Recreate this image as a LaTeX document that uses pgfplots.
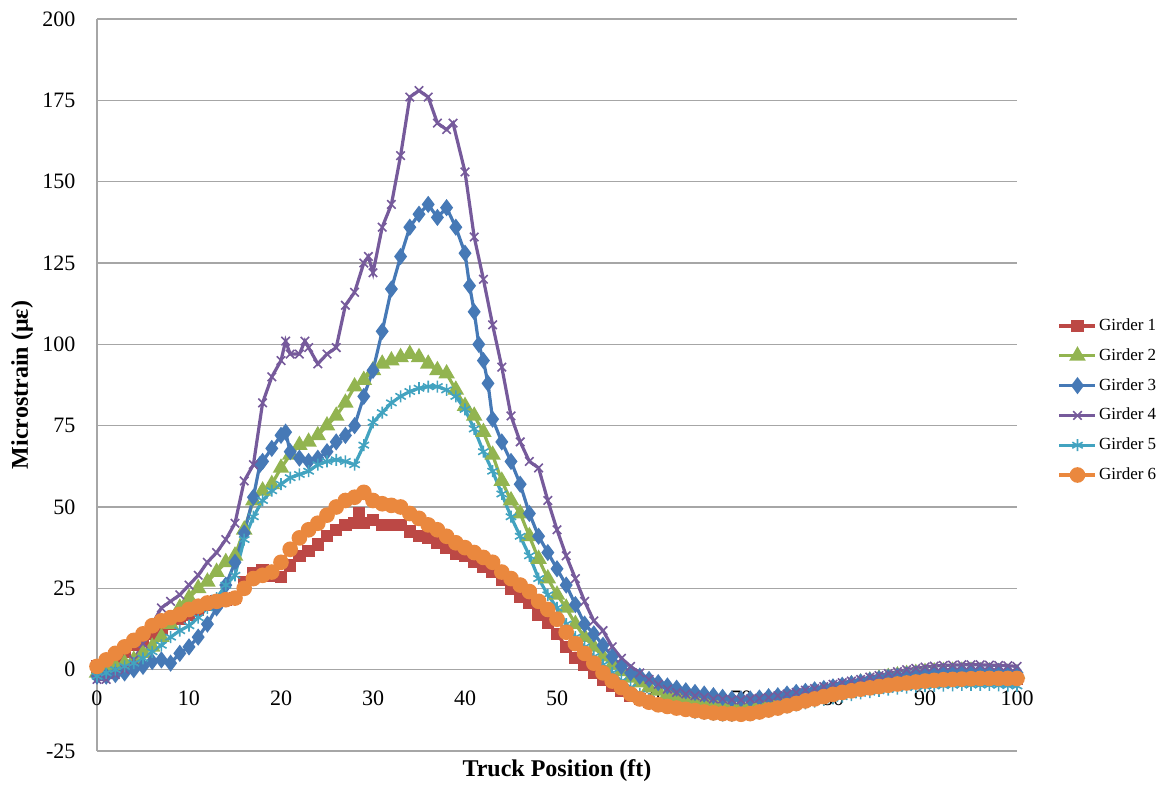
\documentclass[border=0pt]{standalone}
\usepackage{pgfplots}
\pgfplotsset{compat=1.18}
\usepackage{fontspec}
\setmainfont{Liberation Serif}
\definecolor{c1}{RGB}{188,72,69}
\definecolor{c2}{RGB}{146,180,80}
\definecolor{c3}{RGB}{70,121,182}
\definecolor{c4}{RGB}{118,90,155}
\definecolor{c5}{RGB}{66,163,192}
\definecolor{c6}{RGB}{234,136,62}
\begin{document}
\begin{tikzpicture}
\useasboundingbox (-48.5pt,-17pt) rectangle (532.5pt,375.5pt);
\begin{axis}[
  at={(0,0)}, anchor=south west,
  scale only axis, width=460pt, height=366pt,
  xmin=0, xmax=100, ymin=-25, ymax=200,
  axis y line=left, axis x line=middle,
  axis line style={-, draw=gray!70, line width=0.75pt},
  hide obscured x ticks=false, hide obscured y ticks=false,
  xtick={0,10,...,100},
  xticklabels={0,10,20,30,40,50,60,70,80,90,100},
  ytick={-25,0,25,50,75,100,125,150,175,200},
  yticklabels={-25,0,25,50,75,100,125,150,175,200},
  major tick length=0pt,
  ymajorgrids, grid style={draw=gray!70, line width=0.75pt},
  ticklabel style={font=\fontsize{11}{13}\selectfont},
  xticklabel style={anchor=north, yshift=-7pt},
  yticklabel style={anchor=east, xshift=-7.3pt},
  xlabel={Truck Position (ft)},
  ylabel={Microstrain (με)},
  label style={font=\fontsize{12}{14}\selectfont\bfseries},
  xlabel style={at={(axis description cs:0.5,0)}, anchor=north, inner sep=0pt, yshift=-4pt},
  ylabel style={at={(axis description cs:0,0.5)}, anchor=center, yshift=37.5pt},
  legend style={at={(axis description cs:1.044,0.4788)}, anchor=west, draw=none, fill=none,
    font=\fontsize{8.5}{10}\selectfont, inner sep=0pt, row sep=5.5pt,
    nodes={inner sep=1pt}},
  legend cell align=left,
  legend image code/.code={\draw[mark repeat=2,mark phase=2] plot coordinates {(0pt,0pt) (9pt,0pt) (18pt,0pt)};},
  every axis plot/.append style={line width=1.6pt},
]
\addplot[color=c1, mark=square*, mark size=2.3pt, mark options={solid}] coordinates {
(0,1)(1,2)(2,3)(3,5.5)(4,7.5)(5,9)(6,11)(7,12.5)(8,14)(9,15.5)(10,17)(11,18.5)(12,20)(13,21)(14,21.5)(15,22)(16,27)(17,29.5)(18,30.5)(19,29)(20,28.5)(21,32)(22,35)(23,36.5)(24,38.5)(25,41)(26,43)(27,44.5)(28,45)(28.5,48)(29,45)(30,46)(31,44.5)(32,44.5)(33,44.5)(34,42.5)(35,41)(36,40.5)(37,39)(38,37.5)(39,35.5)(40,35)(41,33)(42,31.5)(43,30)(44,27.5)(45,25)(46,22.5)(47,20.5)(48,17)(49,14.5)(50,11)(51,7)(52,3.5)(53,1.5)(54,-1)(55,-3)(56,-5)(57,-6.5)(58,-8)(59,-9)(60,-10)(61,-10.5)(62,-11)(63,-11.3)(64,-11.6)(65,-11.9)(66,-12.1)(67,-12.3)(68,-12.4)(69,-12.5)(70,-12.5)(71,-12.3)(72,-12)(73,-11.5)(74,-11)(75,-10.4)(76,-9.8)(77,-9.2)(78,-8.6)(79,-8)(80,-7.4)(81,-6.8)(82,-6.3)(83,-5.8)(84,-5.3)(85,-4.9)(86,-4.5)(87,-4.1)(88,-3.8)(89,-3.5)(90,-3.2)(91,-3)(92,-2.8)(93,-2.7)(94,-2.6)(95,-2.5)(96,-2.5)(97,-2.5)(98,-2.5)(99,-2.6)(100,-2.7)
};
\addlegendentry{Girder 1}
\addplot[color=c2, mark=triangle*, mark size=3.2pt, mark options={solid}] coordinates {
(0,-1)(1,0)(2,1)(3,2)(4,3)(5,5)(6,7)(7,10)(8,14)(9,19)(10,22)(11,25)(12,27)(13,30)(14,33)(15,35)(16,43)(17,52)(18,55)(19,57)(20,62)(21,66)(22,69)(23,70)(24,72)(25,75)(26,78)(27,82)(28,87)(29,89)(30,92)(31,94)(32,95)(33,96)(34,97)(35,96)(36,94)(37,92)(38,91)(39,86)(40,81)(41,78)(42,73)(43,66)(44,58)(45,52)(46,48)(47,41)(48,34)(49,28)(50,23)(51,19)(52,14)(53,10)(54,7)(55,4)(56,1.5)(57,-0.5)(58,-2.5)(59,-4)(60,-5.5)(61,-6.5)(62,-7.5)(63,-8.2)(64,-8.8)(65,-9.3)(66,-9.8)(67,-10.2)(68,-10.5)(69,-10.7)(70,-10.8)(71,-10.7)(72,-10.3)(73,-9.8)(74,-9.2)(75,-8.6)(76,-8)(77,-7.5)(78,-7)(79,-6.5)(80,-6)(81,-5.3)(82,-4.6)(83,-4)(84,-3.4)(85,-2.8)(86,-2.3)(87,-1.8)(88,-1.4)(89,-1.1)(90,-0.8)(91,-0.6)(92,-0.5)(93,-0.4)(94,-0.4)(95,-0.4)(96,-0.5)(97,-0.6)(98,-0.8)(99,-1)(100,-1.2)
};
\addlegendentry{Girder 2}
\addplot[color=c3, mark=diamond*, mark size=3pt, mark options={solid}] coordinates {
(0,-2)(1,-2)(2,-1.5)(3,-1)(4,0)(5,1)(6,2.5)(7,3)(8,2)(9,5)(10,7)(11,10)(12,14)(13,19)(14,26)(15,33)(16,42)(17,53)(17.7,63)(18,64)(19,68)(20,72)(20.5,73)(21,67)(22,65)(23,64)(24,65)(25,67)(26,70)(27,72)(28,75)(29,84)(30,92)(31,104)(32,117)(33,127)(34,136)(35,140)(36,143)(37,139)(38,142)(39,136)(40,128)(40.5,118)(41,110)(41.5,100)(42,95)(42.5,88)(43,77)(44,70)(45,64)(46,57)(47,48)(48,41)(49,36)(50,31)(51,26)(52,20)(53,14)(54,11)(55,7.5)(56,4)(57,1)(58,-1)(59,-2)(60,-3)(61,-4)(62,-5)(63,-5.7)(64,-6.5)(65,-7)(66,-7.5)(67,-8)(68,-8.5)(69,-9)(70,-9)(71,-9)(72,-8.7)(73,-8.3)(74,-8)(75,-7.5)(76,-7)(77,-6.7)(78,-6.2)(79,-5.8)(80,-5.3)(81,-4.8)(82,-4.3)(83,-3.8)(84,-3.3)(85,-2.8)(86,-2.4)(87,-2)(88,-1.6)(89,-1.3)(90,-1)(91,-0.8)(92,-0.6)(93,-0.5)(94,-0.4)(95,-0.4)(96,-0.4)(97,-0.5)(98,-0.6)(99,-0.8)(100,-1)
};
\addlegendentry{Girder 3}
\addplot[color=c4, mark=x, mark size=3pt, mark options={solid, line width=0.8pt}] coordinates {
(0,-3)(1,-3)(2,-1.5)(3,0)(4,3)(5,8)(6,14)(7,19)(8,21)(9,23)(10,26)(11,29)(12,33)(13,36)(14,40)(15,45)(16,58)(17,63)(18,82)(19,90)(20,95)(20.5,101)(21,97)(22,97)(22.6,101)(23,99)(24,94)(25,97)(26,99)(27,112)(28,116)(29,125)(29.5,127)(30,122)(31,136)(32,143)(33,158)(34,176)(35,178)(36,176)(37,168)(38,166)(38.7,168)(40,153)(41,133)(42,120)(43,106)(44,93)(45,78)(46,70)(47,64)(48,62)(49,52)(50,43)(51,35)(52,28)(53,21)(54,15)(55,12)(56,7)(57,3.5)(58,1)(59,-1)(60,-3)(61,-4.5)(62,-6)(63,-7)(64,-7.5)(65,-8)(66,-8.5)(67,-9)(68,-9)(69,-9.3)(70,-9.3)(71,-9)(72,-8.8)(73,-8.5)(74,-8)(75,-7.5)(76,-7)(77,-6.3)(78,-5.8)(79,-5.2)(80,-4.5)(81,-4)(82,-3.5)(83,-3)(84,-2.3)(85,-1.8)(86,-1.2)(87,-0.6)(88,0)(89,0.4)(90,0.8)(91,1.1)(92,1.3)(93,1.4)(94,1.5)(95,1.5)(96,1.5)(97,1.4)(98,1.3)(99,1.2)(100,1)
};
\addlegendentry{Girder 4}
\addplot[color=c5, mark=asterisk, mark size=3pt, mark options={solid, line width=0.8pt}] coordinates {
(0,-2)(1,-1)(2,0)(3,1)(4,2)(5,3.5)(6,5.5)(7,7.5)(8,10)(9,12)(10,13.5)(11,16)(12,19)(13,22)(14,26)(15,29)(16,40)(17,47)(18,52)(19,55)(20,57)(21,59)(22,60)(23,61)(24,63)(25,64)(26,64.5)(27,64)(28,63)(29,69)(30,76)(31,79)(32,82)(33,84)(34,85.5)(35,86.5)(36,87)(37,87)(38,86)(39,84)(40,80)(41,74)(42,67)(43,61)(44,54)(45,47)(46,41)(47,35)(48,28)(49,23)(50,19)(51,14)(52,10)(53,7)(54,4)(55,1.5)(56,-1)(57,-3.5)(58,-5.5)(59,-7.5)(60,-9)(61,-10.3)(62,-11.3)(63,-12.1)(64,-12.7)(65,-13.2)(66,-13.6)(67,-13.9)(68,-14.1)(69,-14.2)(70,-14.2)(71,-14)(72,-13.5)(73,-13)(74,-12.3)(75,-11.6)(76,-11)(77,-10.4)(78,-9.8)(79,-9.3)(80,-8.8)(81,-8.3)(82,-7.8)(83,-7.3)(84,-6.9)(85,-6.5)(86,-6.1)(87,-5.8)(88,-5.5)(89,-5.3)(90,-5.1)(91,-5)(92,-4.9)(93,-4.8)(94,-4.7)(95,-4.7)(96,-4.7)(97,-4.7)(98,-4.8)(99,-4.9)(100,-5)
};
\addlegendentry{Girder 5}
\addplot[color=c6, mark=*, mark size=3.1pt, mark options={solid}] coordinates {
(0,1)(1,3)(2,5)(3,7)(4,9)(5,11)(6,13.5)(7,15)(8,16)(9,17)(10,18.5)(11,19.5)(12,20.5)(13,21)(14,21.5)(15,22)(16,25)(17,28)(18,29)(19,30)(20,33)(21,37)(22,40.5)(23,43)(24,45)(25,47.5)(26,50)(27,52)(28,53)(29,54.5)(30,52)(31,51)(32,50.5)(33,50)(34,48)(35,46.5)(36,44.5)(37,43)(38,41)(39,39)(40,37.5)(41,36)(42,34.5)(43,33)(44,30)(45,28)(46,26)(47,24)(48,21)(49,18.5)(50,15.5)(51,11.5)(52,8)(53,5)(54,2)(55,-1)(56,-3.5)(57,-5.5)(58,-7.5)(59,-9)(60,-10)(61,-10.8)(62,-11.3)(63,-11.8)(64,-12.2)(65,-12.6)(66,-13)(67,-13.3)(68,-13.5)(69,-13.6)(70,-13.7)(71,-13.5)(72,-13)(73,-12.4)(74,-11.8)(75,-11.1)(76,-10.4)(77,-9.6)(78,-9)(79,-8.3)(80,-7.6)(81,-7)(82,-6.5)(83,-6)(84,-5.6)(85,-5.2)(86,-4.8)(87,-4.4)(88,-4.1)(89,-3.8)(90,-3.5)(91,-3.3)(92,-3.1)(93,-3)(94,-2.9)(95,-2.8)(96,-2.7)(97,-2.7)(98,-2.7)(99,-2.7)(100,-2.7)
};
\addlegendentry{Girder 6}
\end{axis}
\end{tikzpicture}
\end{document}
